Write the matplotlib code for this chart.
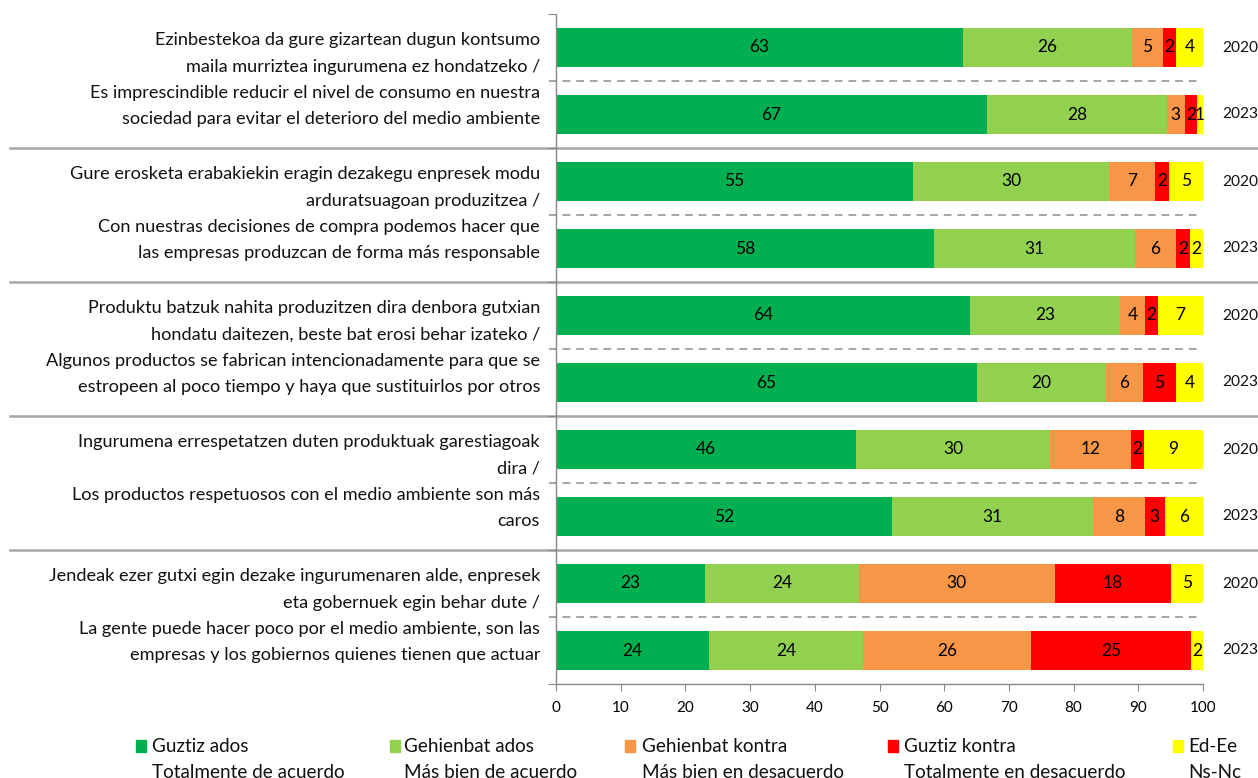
import matplotlib
matplotlib.use("Agg")
import matplotlib.pyplot as plt
from matplotlib.patches import Rectangle
from matplotlib.lines import Line2D

plt.rcParams['font.family'] = ['Lato', 'DejaVu Sans']

statements = [
    "Ezinbestekoa da gure gizartean dugun kontsumo\nmaila murriztea ingurumena ez hondatzeko /\nEs imprescindible reducir el nivel de consumo en nuestra\nsociedad para evitar el deterioro del medio ambiente",
    "Gure erosketa erabakiekin eragin dezakegu enpresek modu\narduratsuagoan produzitzea /\nCon nuestras decisiones de compra podemos hacer que\nlas empresas produzcan de forma más responsable",
    "Produktu batzuk nahita produzitzen dira denbora gutxian\nhondatu daitezen, beste bat erosi behar izateko /\nAlgunos productos se fabrican intencionadamente para que se\nestropeen al poco tiempo y haya que sustituirlos por otros",
    "Ingurumena errespetatzen duten produktuak garestiagoak\ndira /\nLos productos respetuosos con el medio ambiente son más\ncaros",
    "Jendeak ezer gutxi egin dezake ingurumenaren alde, enpresek\neta gobernuek egin behar dute /\nLa gente puede hacer poco por el medio ambiente, son las\nempresas y los gobiernos quienes tienen que actuar",
]
years = ["2020", "2023"] * 5

cat_eu = ["Guztiz ados", "Gehienbat ados", "Gehienbat kontra", "Guztiz kontra", "Ed-Ee"]
cat_es = ["Totalmente de acuerdo", "Más bien de acuerdo", "Más bien en desacuerdo",
          "Totalmente en desacuerdo", "Ns-Nc"]
colors = ["#00B050", "#92D050", "#F79646", "#FF0000", "#FFFF00"]

# one list per category, rows in order (top to bottom)
totally_agree = [62.9, 66.6, 55.2, 58.4, 64.0, 65.1, 46.4, 51.9, 23.0, 23.7]
rather_agree = [26.1, 27.8, 30.3, 31.1, 23.2, 19.9, 30.0, 31.1, 23.8, 23.8]
rather_disagree = [4.8, 2.8, 7.1, 6.3, 3.8, 5.7, 12.5, 8.0, 30.3, 25.9]
totally_disagree = [2.0, 1.9, 2.2, 2.2, 2.0, 5.1, 2.0, 3.1, 18.0, 24.8]
dont_know = [4.2, 0.9, 5.2, 2.0, 7.0, 4.2, 9.1, 5.9, 4.9, 1.8]
series = [totally_agree, rather_agree, rather_disagree, totally_disagree, dont_know]

W, H = 1258, 778
fig = plt.figure(figsize=(W / 100, H / 100), dpi=100)
ax_left, ax_right, ax_top, ax_bot = 556, 1203, 14, 684
ax = fig.add_axes([ax_left / W, 1 - ax_bot / H, (ax_right - ax_left) / W, (ax_bot - ax_top) / H])

n = len(years)
ypos = list(range(n))
left = [0.0] * n
for vals, col in zip(series, colors):
    ax.barh(ypos, vals, left=left, height=0.57, color=col, edgecolor='none', zorder=2)
    for i, v in enumerate(vals):
        ax.text(left[i] + v / 2, i, f"{round(v)}", ha='center', va='center',
                fontsize=12.5, color='black', zorder=3)
    left = [l + v for l, v in zip(left, vals)]

ax.set_xlim(0, 100)
ax.set_ylim(n - 0.5, -0.5)
ax.set_xticks(range(0, 101, 10))
ax.tick_params(axis='x', labelsize=11, length=5, color='#888888', direction='out', pad=7)
ax.set_yticks([-0.5, 1.5, 3.5, 5.5, 7.5, 9.5])
ax.set_yticklabels([])
ax.tick_params(axis='y', length=6, color='#888888', direction='out')
for s in ['top', 'right']:
    ax.spines[s].set_visible(False)
for s in ['left', 'bottom']:
    ax.spines[s].set_color('#888888')
    ax.spines[s].set_linewidth(1.0)

xmin_ax = (10 - ax_left) / (ax_right - ax_left)
xmax_ax = (W - ax_left) / (ax_right - ax_left)
xd0 = (549 - ax_left) / (ax_right - ax_left)
xd1 = (1201 - ax_left) / (ax_right - ax_left)
trans = ax.get_yaxis_transform()
for yb in [1.5, 3.5, 5.5, 7.5]:
    ax.add_line(Line2D([xmin_ax, xmax_ax], [yb, yb], transform=trans, color='#A6A6A6',
                       lw=1.8, clip_on=False, zorder=1))
for yd in [0.5, 2.5, 4.5, 6.5, 8.5]:
    ax.add_line(Line2D([xd0, xd1], [yd, yd], transform=trans, color='#A6A6A6',
                       lw=1.4, ls=(0, (4, 3)), clip_on=False, zorder=1))

# statement labels
xlab = (540 - ax_left) / (ax_right - ax_left)
for g, txt in enumerate(statements):
    ax.text(xlab, 2 * g + 0.48, txt, transform=trans, ha='right', va='center',
            fontsize=13.1, linespacing=1.78, color='#111111')

# year labels
xyr = (1222 - ax_left) / (ax_right - ax_left)
for i, yr in enumerate(years):
    ax.text(xyr, i, yr, transform=trans, ha='left', va='center', fontsize=11.2, color='#111111')

# legend
sq_x = [136, 390, 625, 888, 1173]
tx_x = [152, 404, 642, 904, 1188]
for k in range(5):
    fig.patches.append(Rectangle((sq_x[k] / W, 1 - 752 / H), 10 / W, 12 / H,
                                 transform=fig.transFigure, color=colors[k]))
    fig.text(tx_x[k] / W, 1 - 746 / H, cat_eu[k], ha='left', va='center', fontsize=13.6,
             color='#111111')
    fig.text(tx_x[k] / W, 1 - 772 / H, cat_es[k], ha='left', va='center', fontsize=13.6,
             color='#111111')

fig.savefig("out.png", dpi=100)
